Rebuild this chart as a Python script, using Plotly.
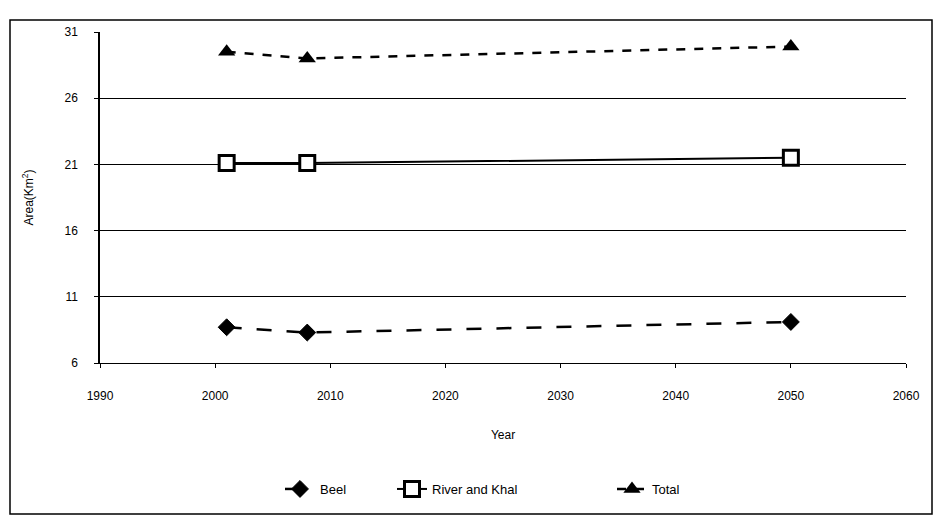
import plotly.graph_objects as go

# Water-body area by year
years = [2001, 2008, 2050]
beel = [8.7, 8.3, 9.1]
river_khal = [21.1, 21.1, 21.5]
total = [29.5, 29.0, 29.9]

x_ticks = [1990, 2000, 2010, 2020, 2030, 2040, 2050, 2060]
y_ticks = [6, 11, 16, 21, 26, 31]

W, H = 943, 517
L, R, T, B = 100, 37, 32, 154
pw, ph = W - L - R, H - T - B


def px(x):
    return (x - L) / pw


def py(y):
    return (H - B - y) / ph


font = dict(family="Liberation Sans, Arial, sans-serif", size=12, color="black")

fig = go.Figure()
fig.add_trace(go.Scatter(
    x=years, y=beel, name="Beel", mode="lines+markers", legend="legend",
    line=dict(color="black", width=2.5, dash="longdash"),
    marker=dict(symbol="diamond", size=13, color="black",
                line=dict(color="black", width=1)),
))
fig.add_trace(go.Scatter(
    x=years, y=river_khal, name="River and Khal", mode="lines+markers",
    legend="legend2",
    line=dict(color="black", width=2),
    marker=dict(symbol="square", size=15, color="white",
                line=dict(color="black", width=3)),
))
fig.add_trace(go.Scatter(
    x=years, y=total, name="Total", mode="lines+markers", legend="legend3",
    line=dict(color="black", width=2.5, dash="dash"),
    marker=dict(symbol="triangle-up", size=15, color="black"),
))

legend_style = dict(orientation="h", xanchor="left", y=py(489),
                    yanchor="middle", font=dict(size=13),
                    bgcolor="rgba(0,0,0,0)")

fig.update_layout(
    width=W, height=H,
    margin=dict(l=L, r=R, t=T, b=B),
    paper_bgcolor="white", plot_bgcolor="white",
    font=font,
    showlegend=True,
    legend=dict(x=px(280), **legend_style),
    legend2=dict(x=px(392), **legend_style),
    legend3=dict(x=px(612), **legend_style),
    xaxis=dict(
        range=[1990, 2060], tickvals=x_ticks,
        ticktext=[str(v) for v in x_ticks],
        showgrid=False, zeroline=False,
        showline=True, linecolor="black", linewidth=1,
        ticks="outside", ticklen=4, tickcolor="black",
        ticklabelstandoff=18,
        title=dict(text="Year", standoff=28, font=dict(size=12)),
    ),
    yaxis=dict(
        range=[6, 31], tickvals=y_ticks,
        showgrid=True, gridcolor="black", gridwidth=1,
        zeroline=False,
        showline=True, linecolor="black", linewidth=1.5,
        ticks="outside", ticklen=4, tickcolor="black",
        ticklabelstandoff=14,
        title=dict(text="Area(Km<sup>2</sup>)", standoff=28,
                   font=dict(size=12)),
    ),
    shapes=[
        dict(type="rect", xref="paper", yref="paper",
             x0=px(10), x1=px(932), y0=py(514), y1=py(20),
             line=dict(color="black", width=1.5), layer="below"),
    ],
)

fig.write_html("out.html")
